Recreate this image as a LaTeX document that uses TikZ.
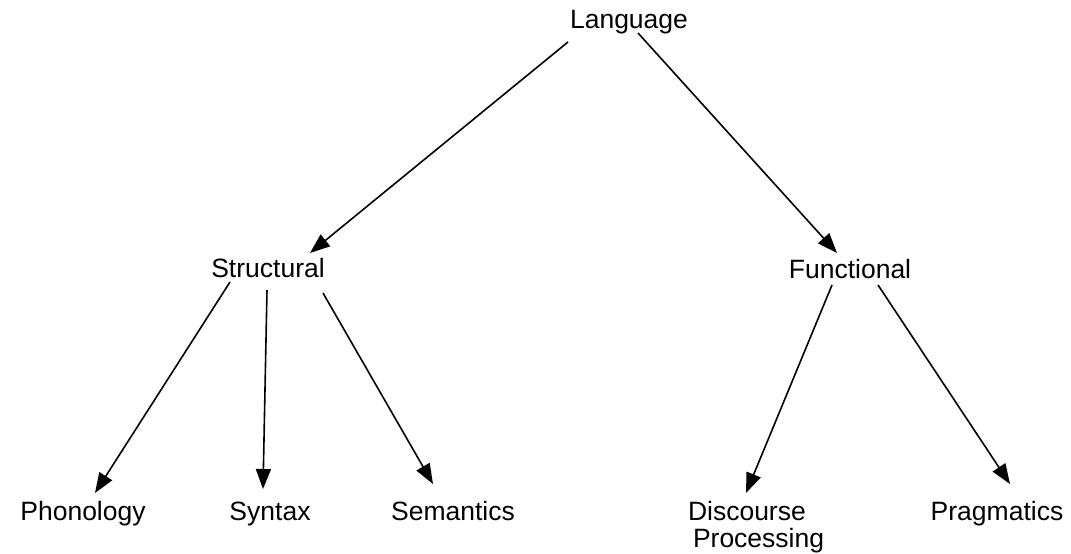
\documentclass[tikz,border=0pt]{standalone}
\usepackage{fontspec}
\setmainfont{Liberation Sans}
\usetikzlibrary{arrows.meta}
\begin{document}
\begin{tikzpicture}[x=1pt,y=-1pt,
  lbl/.style={inner sep=0pt,outer sep=0pt,anchor=base,font=\fontsize{26.5}{27}\selectfont},
  arr/.style={line width=1.6pt,-{Triangle[length=20pt,width=15pt]}}]
\useasboundingbox (0,0) rectangle (1071,554);
\node[lbl] (lang) at (629,28) {Language};
\node[lbl] (struc) at (268,277) {Structural};
\node[lbl] (func) at (850,278) {Functional};
\node[lbl] (phon) at (83,520) {Phonology};
\node[lbl] (syn) at (270,520) {Syntax};
\node[lbl] (sem) at (453,520) {Semantics};
\node[lbl,anchor=base west,align=left] (disc) at (688,547) {Discourse\\\hspace*{5pt}Processing};
\node[lbl] (prag) at (997,520) {Pragmatics};
\draw[arr] ([shift={(-61,14)}]lang.base) -- ([shift={(42,-24)}]struc.base);
\draw[arr] ([shift={(9,5)}]lang.base) -- ([shift={(-13,-25)}]func.base);
\draw[arr] ([shift={(-38,5)}]struc.base) -- ([shift={(12,-27)}]phon.base);
\draw[arr] ([shift={(-1,13)}]struc.base) -- ([shift={(-7,-31)}]syn.base);
\draw[arr] ([shift={(55,16)}]struc.base) -- ([shift={(-20,-36)}]sem.base);
\draw[arr] ([shift={(-18,7)}]func.base) -- ([shift={(58,-54)}]disc.base west);
\draw[arr] ([shift={(28,7)}]func.base) -- ([shift={(13,-36)}]prag.base);
\end{tikzpicture}
\end{document}
